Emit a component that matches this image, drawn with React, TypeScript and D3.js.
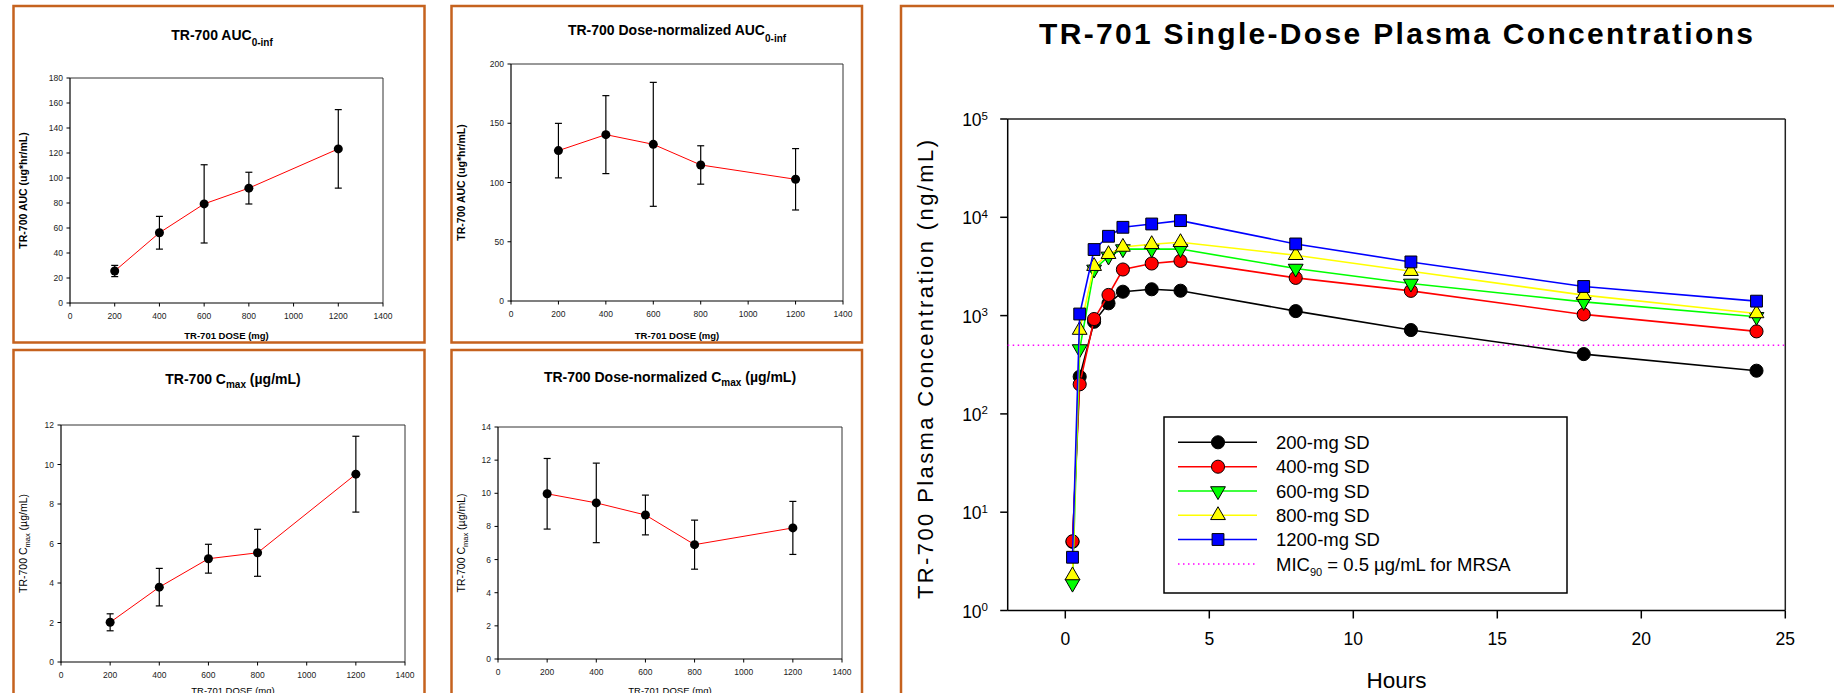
import React from 'react';
import * as d3 from 'd3';

// dose-response panels (mean +/- sd)
const doses = [200, 400, 600, 800, 1200];
const aucMean = [25.6, 56.2, 79.3, 91.9, 123.3];
const aucSd = [4.5, 13.1, 31.3, 12.7, 31.4];
const aucNormMean = [126.9, 140.4, 132.2, 114.8, 102.7];
const aucNormSd = [23.0, 32.9, 52.3, 16.2, 25.9];
const cmaxMean = [2.01, 3.79, 5.23, 5.53, 9.51];
const cmaxSd = [0.43, 0.95, 0.73, 1.19, 1.92];
const cmaxNormMean = [9.97, 9.42, 8.69, 6.9, 7.91];
const cmaxNormSd = [2.13, 2.4, 1.2, 1.48, 1.6];
const doseTicks = [0, 200, 400, 600, 800, 1000, 1200, 1400];

// single-dose plasma concentrations (ng/mL)
const hours = [0.25, 0.5, 1, 1.5, 2, 3, 4, 8, 12, 18, 24];
const conc200 = [5.0, 239, 866, 1334, 1750, 1853, 1791, 1111, 713, 406, 275];
const conc400 = [5.06, 200, 923, 1622, 2944, 3388, 3600, 2420, 1786, 1028, 691];
const conc600 = [1.88, 457, 2950, 4000, 4750, 4750, 4750, 3013, 2123, 1380, 973];
const conc800 = [2.27, 713, 3183, 4210, 4992, 5317, 5572, 4113, 2830, 1614, 1052];
const conc1200 = [3.48, 1038, 4700, 6410, 7912, 8550, 9250, 5358, 3516, 1977, 1403];
const hourTicks = [0, 5, 10, 15, 20, 25];
const decadeTicks = [1, 10, 100, 1000, 10000, 100000];
const micLevel = 500;

const series = [
  { name: '200-mg SD', values: conc200, color: '#000000', shape: 'circle' },
  { name: '400-mg SD', values: conc400, color: '#ff0000', shape: 'circle' },
  { name: '600-mg SD', values: conc600, color: '#00ff00', shape: 'down' },
  { name: '800-mg SD', values: conc800, color: '#ffff00', shape: 'up' },
  { name: '1200-mg SD', values: conc1200, color: '#0000ff', shape: 'square' },
];

const FONT = '"Liberation Sans", Arial, Helvetica, sans-serif';
const BORDER = '#c5621e';

const markerPath = (shape) => {
  if (shape === 'circle') return d3.symbol(d3.symbolCircle, 135)();
  if (shape === 'square') return d3.symbol(d3.symbolSquare, 140)();
  return d3.symbol(d3.symbolTriangle, 95)();
};

const SmallChart = ({ plot, yMax, yStep, mean, sd, title, titleX, titleY, yLabel, yLabelX, yBold, xLabelY, xBold }) => {
  const x = d3.scaleLinear().domain([0, 1400]).range([plot.l, plot.r]);
  const y = d3.scaleLinear().domain([0, yMax]).range([plot.b, plot.t]);
  const yTicks = d3.range(0, yMax + yStep / 2, yStep);
  const line = d3.line().x((d) => x(d[0])).y((d) => y(d[1]));
  const pts = doses.map((d, i) => [d, mean[i]]);

  return (
    <g fontFamily={FONT}>
      <text x={titleX} y={titleY} textAnchor="middle" fontSize={14} fontWeight="bold">{title}</text>
      {/* frame */}
      <line x1={plot.l} x2={plot.r} y1={plot.t} y2={plot.t} stroke="#333" strokeWidth={1} />
      <line x1={plot.r} x2={plot.r} y1={plot.t} y2={plot.b} stroke="#333" strokeWidth={1} />
      <line x1={plot.l} x2={plot.l} y1={plot.t} y2={plot.b + 0.5} stroke="#000" strokeWidth={1.2} />
      <line x1={plot.l} x2={plot.r} y1={plot.b} y2={plot.b} stroke="#000" strokeWidth={1.2} />
      {yTicks.map((t) => (
        <g key={'y' + t}>
          <line x1={plot.l - 3.5} x2={plot.l} y1={y(t)} y2={y(t)} stroke="#000" strokeWidth={1} />
          <text x={plot.l - 7} y={y(t) + 3} textAnchor="end" fontSize={8.5} fill="#222">{t}</text>
        </g>
      ))}
      {doseTicks.map((t) => (
        <g key={'x' + t}>
          <line x1={x(t)} x2={x(t)} y1={plot.b} y2={plot.b + 3.5} stroke="#000" strokeWidth={1} />
          <text x={x(t)} y={plot.b + 16} textAnchor="middle" fontSize={8.5} fill="#222">{t}</text>
        </g>
      ))}
      <text x={(plot.l + plot.r) / 2} y={xLabelY} textAnchor="middle" fontSize={9.5}
        fontWeight={xBold ? 'bold' : 'normal'}>TR-701 DOSE (mg)</text>
      <text transform={`translate(${yLabelX},${(plot.t + plot.b) / 2}) rotate(-90)`} textAnchor="middle"
        fontSize={10.5} fontWeight={yBold ? 'bold' : 'normal'}>{yLabel}</text>
      <path d={line(pts)} fill="none" stroke="#ff0000" strokeWidth={1} />
      {doses.map((d, i) => (
        <g key={'e' + d}>
          <line x1={x(d)} x2={x(d)} y1={y(mean[i] - sd[i])} y2={y(mean[i] + sd[i])} stroke="#000" strokeWidth={1.2} />
          <line x1={x(d) - 3.5} x2={x(d) + 3.5} y1={y(mean[i] + sd[i])} y2={y(mean[i] + sd[i])} stroke="#000" strokeWidth={1.2} />
          <line x1={x(d) - 3.5} x2={x(d) + 3.5} y1={y(mean[i] - sd[i])} y2={y(mean[i] - sd[i])} stroke="#000" strokeWidth={1.2} />
          <circle cx={x(d)} cy={y(mean[i])} r={4.5} fill="#000" />
        </g>
      ))}
    </g>
  );
};

const PlasmaChart = () => {
  const plot = { l: 1007.7, r: 1785.3, t: 119, b: 610.5 };
  const x = d3.scaleLinear().domain([-2, 25]).range([plot.l, plot.r]);
  const y = d3.scaleLog().domain([1, 1e5]).range([plot.b, plot.t]);
  const line = d3.line().x((d) => x(d[0])).y((d) => y(d[1]));
  const cx = (plot.l + plot.r) / 2;
  const legendRows = [442.3, 466.7, 491, 515.3, 539.5, 564];

  const marker = (s, px, py, key) => (
    <path key={key} d={markerPath(s.shape)}
      transform={`translate(${px},${py})${s.shape === 'down' ? ' rotate(180)' : ''}`}
      fill={s.color} stroke="#000" strokeWidth={1} />
  );

  return (
    <g fontFamily={FONT}>
      <text x={1396} y={44} textAnchor="middle" fontSize={30} fontWeight="bold" textLength={714}
        lengthAdjust="spacing">TR-701 Single-Dose Plasma Concentrations</text>
      <line x1={plot.l} x2={plot.r} y1={plot.t} y2={plot.t} stroke="#222" strokeWidth={1.5} />
      <line x1={plot.r} x2={plot.r} y1={plot.t} y2={plot.b} stroke="#222" strokeWidth={1.5} />
      <line x1={plot.l} x2={plot.l} y1={plot.t} y2={plot.b} stroke="#000" strokeWidth={1.5} />
      <line x1={plot.l} x2={plot.r} y1={plot.b} y2={plot.b} stroke="#000" strokeWidth={1.5} />
      {decadeTicks.map((t, i) => (
        <g key={'d' + t}>
          <line x1={plot.l - 7.5} x2={plot.l} y1={y(t)} y2={y(t)} stroke="#000" strokeWidth={1.5} />
          <text x={988} y={y(t) + 7} textAnchor="end" fontSize={17.5}>
            10<tspan dy={-6.5} fontSize={11.5}>{i}</tspan>
          </text>
        </g>
      ))}
      {hourTicks.map((t) => (
        <g key={'h' + t}>
          <line x1={x(t)} x2={x(t)} y1={plot.b} y2={plot.b + 8} stroke="#000" strokeWidth={1.5} />
          <text x={x(t)} y={645} textAnchor="middle" fontSize={17.5}>{t}</text>
        </g>
      ))}
      <text x={cx} y={688} textAnchor="middle" fontSize={22.5}>Hours</text>
      <text transform={`translate(${933},${369.5}) rotate(-90)`} textAnchor="middle" fontSize={22}
        textLength={459} lengthAdjust="spacing">TR-700 Plasma Concentration (ng/mL)</text>
      <line x1={plot.l} x2={plot.r} y1={y(micLevel)} y2={y(micLevel)} stroke="#ff00ff" strokeWidth={1.5}
        strokeDasharray="1.5 3.5" />
      {series.map((s) => (
        <g key={s.name}>
          <path d={line(hours.map((h, i) => [h, s.values[i]]))} fill="none" stroke={s.color} strokeWidth={1.6} />
          {hours.map((h, i) => marker(s, x(h), y(s.values[i]), s.name + h))}
        </g>
      ))}
      {/* legend */}
      <rect x={1164} y={417} width={403} height={176} fill="#fff" stroke="#000" strokeWidth={1.5} />
      {series.map((s, i) => (
        <g key={'lg' + s.name}>
          <line x1={1178} x2={1257} y1={legendRows[i]} y2={legendRows[i]} stroke={s.color} strokeWidth={1.6} />
          {marker(s, 1218, legendRows[i], 'lm' + s.name)}
          <text x={1276} y={legendRows[i] + 6.5} fontSize={18.5}>{s.name}</text>
        </g>
      ))}
      <line x1={1178} x2={1257} y1={legendRows[5]} y2={legendRows[5]} stroke="#ff00ff" strokeWidth={1.5}
        strokeDasharray="1.5 3.5" />
      <text x={1276} y={legendRows[5] + 6.5} fontSize={18.5}>
        MIC<tspan dy={5} fontSize={11}>90</tspan><tspan dy={-5}> = 0.5 µg/mL for MRSA</tspan>
      </text>
    </g>
  );
};

export default function App() {
  return (
    <svg width={1834} height={693} style={{ position: 'absolute', left: 0, top: 0, background: '#fff' }}>
      <rect x={0} y={0} width={1834} height={693} fill="#fff" />
      {/* panel borders */}
      <rect x={13.5} y={6} width={411} height={336.5} fill="none" stroke={BORDER} strokeWidth={2.5} />
      <rect x={451.5} y={6} width={410.5} height={336.5} fill="none" stroke={BORDER} strokeWidth={2.5} />
      <rect x={13.5} y={350} width={411} height={360} fill="none" stroke={BORDER} strokeWidth={2.5} />
      <rect x={451.5} y={350} width={410.5} height={360} fill="none" stroke={BORDER} strokeWidth={2.5} />
      <rect x={901} y={6} width={960} height={710} fill="none" stroke={BORDER} strokeWidth={2.5} />

      <SmallChart plot={{ l: 70, r: 383, t: 78, b: 303 }} yMax={180} yStep={20} mean={aucMean} sd={aucSd}
        title={<>TR-700 AUC<tspan dy={6} fontSize={10}>0-inf</tspan></>} titleX={222} titleY={39.5}
        yLabel="TR-700 AUC (ug*hr/mL)" yLabelX={27} yBold xLabelY={339} xBold />
      <SmallChart plot={{ l: 511, r: 843, t: 64, b: 301 }} yMax={200} yStep={50} mean={aucNormMean} sd={aucNormSd}
        title={<>TR-700 Dose-normalized AUC<tspan dy={7} fontSize={10}>0-inf</tspan></>} titleX={677} titleY={35}
        yLabel="TR-700 AUC (ug*hr/mL)" yLabelX={465} yBold xLabelY={339} xBold />
      <SmallChart plot={{ l: 61, r: 405, t: 425, b: 662 }} yMax={12} yStep={2} mean={cmaxMean} sd={cmaxSd}
        title={<>TR-700 C<tspan dy={4} fontSize={10}>max</tspan><tspan dy={-4}> (µg/mL)</tspan></>}
        titleX={233} titleY={384}
        yLabel={<>TR-700 C<tspan dy={3} fontSize={7.5}>max</tspan><tspan dy={-3}> (µg/mL)</tspan></>}
        yLabelX={27} xLabelY={694} />
      <SmallChart plot={{ l: 498, r: 842, t: 427, b: 659 }} yMax={14} yStep={2} mean={cmaxNormMean} sd={cmaxNormSd}
        title={<>TR-700 Dose-normalized C<tspan dy={4} fontSize={10}>max</tspan><tspan dy={-4}> (µg/mL)</tspan></>}
        titleX={670} titleY={382}
        yLabel={<>TR-700 C<tspan dy={3} fontSize={7.5}>max</tspan><tspan dy={-3}> (µg/mL)</tspan></>}
        yLabelX={465} xLabelY={694} />

      <PlasmaChart />
    </svg>
  );
}
